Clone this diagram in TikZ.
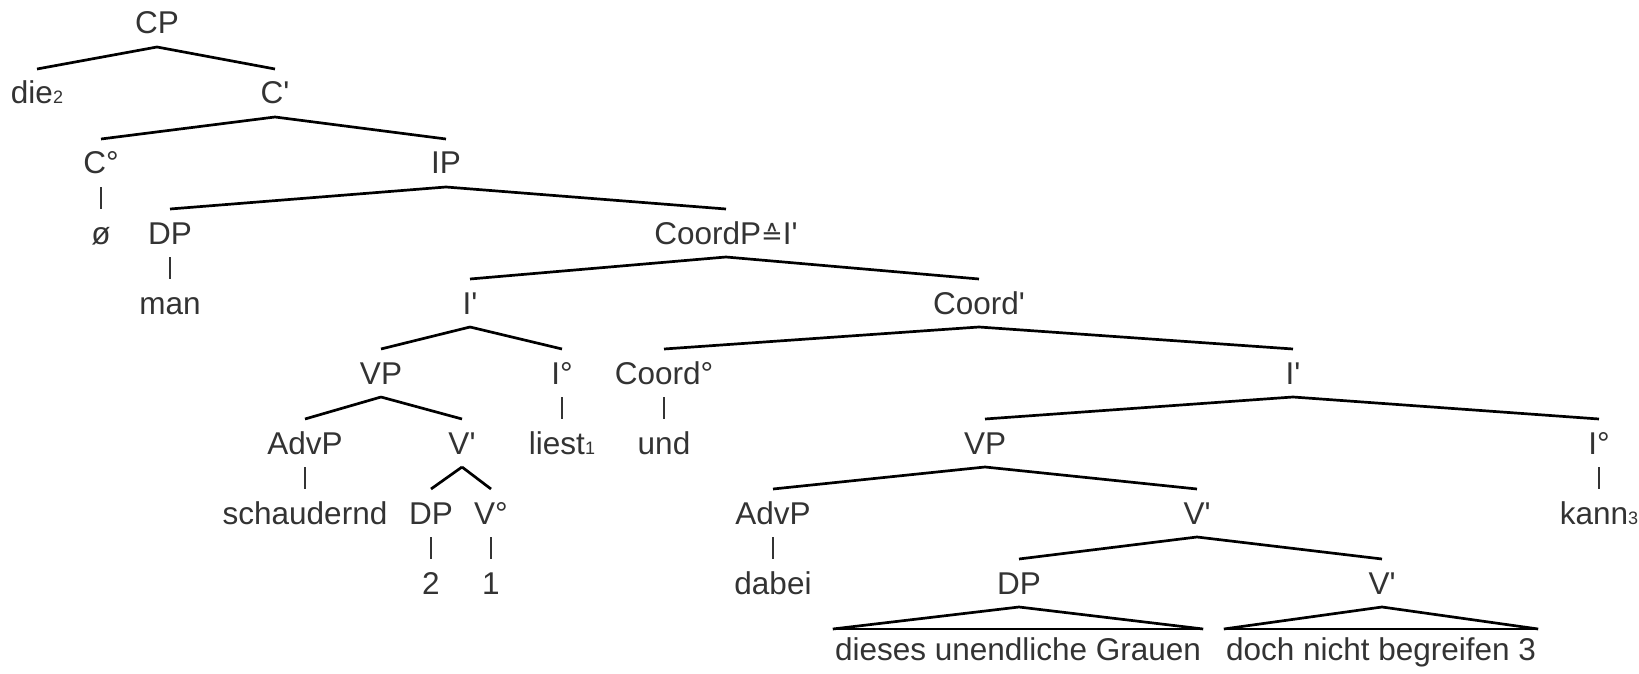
\documentclass[tikz,border=0pt]{standalone}
\usepackage{fontspec}
\setmainfont{Liberation Sans}
\newfontfamily\dejavu{DejaVu Sans}
\usetikzlibrary{calc}
\definecolor{txt}{HTML}{333333}
\newcommand\tsub[1]{{\fontsize{18}{18}\selectfont #1}}
\newcommand\pr{\textquotesingle}
\newcommand\conn[2]{\draw[br] ($(#1.base)+(0,13)$) -- ($(#2.base)+(0,-35)$);}
\newcommand\vbar[2]{\draw[vb] ($(#1.base)+(0,13)$) -- ($(#2.base)+(0,-35)$);}
\newcommand\tri[2]{%
  \draw[br] ($(#2.base west)+(-2,-31)$) -- ($(#1.base)+(0,13)$) -- ($(#2.base east)+(2,-31)$);
  \draw[basel] ($(#2.base west)+(-2,-31)$) -- ($(#2.base east)+(2,-31)$);}
\begin{document}
\begin{tikzpicture}[x=1pt,y=-1pt,
  lab/.style={anchor=base, inner sep=0pt, text=txt, font=\fontsize{31.5}{36}\selectfont},
  br/.style={line width=2.7pt, black},
  vb/.style={line width=1.8pt, txt},
  basel/.style={line width=1.4pt, black}]
\useasboundingbox[fill=white] (0,0) rectangle (1639,674);
\node[lab] (CP) at (157,34) {CP};
\node[lab] (die) at (37,104) {die\tsub{2}};
\node[lab] (Cb) at (275,104) {C\pr};
\node[lab] (C0) at (101,174) {C°};
\node[lab] (IP) at (446,174) {IP};
\node[lab] (oe) at (101,244) {ø};
\node[lab] (DP1) at (170,244) {DP};
\node[lab] (CoP) at (726,244) {CoordP{\dejavu\fontsize{26}{30}\selectfont ≙}I\pr};
\node[lab] (man) at (170,314) {man};
\node[lab] (Ib1) at (470,314) {I\pr};
\node[lab] (Cob) at (979,314) {Coord\pr};
\node[lab] (VP1) at (381,384) {VP};
\node[lab] (I01) at (562,384) {I°};
\node[lab] (Co0) at (664,384) {Coord°};
\node[lab] (Ib2) at (1293,384) {I\pr};
\node[lab] (AdvP1) at (305,454) {AdvP};
\node[lab] (Vb1) at (462,454) {V\pr};
\node[lab] (liest) at (562,454) {liest\tsub{1}};
\node[lab] (und) at (664,454) {und};
\node[lab] (VP2) at (985,454) {VP};
\node[lab] (I02) at (1599,454) {I°};
\node[lab] (schau) at (305,524) {schaudernd};
\node[lab] (DP2) at (431,524) {DP};
\node[lab] (V0) at (491,524) {V°};
\node[lab] (AdvP2) at (773,524) {AdvP};
\node[lab] (Vb2) at (1197,524) {V\pr};
\node[lab] (kann) at (1599,524) {kann\tsub{3}};
\node[lab] (two) at (431,594) {2};
\node[lab] (one) at (491,594) {1};
\node[lab] (dabei) at (773,594) {dabei};
\node[lab] (DP3) at (1019,594) {DP};
\node[lab] (Vb3) at (1382,594) {V\pr};
\node[lab] (t1) at (1018,660) {dieses unendliche Grauen};
\node[lab] (t2) at (1381,660) {doch nicht begreifen 3};
\conn{CP}{die}\conn{CP}{Cb}
\conn{Cb}{C0}\conn{Cb}{IP}
\vbar{C0}{oe}
\conn{IP}{DP1}\conn{IP}{CoP}
\vbar{DP1}{man}
\conn{CoP}{Ib1}\conn{CoP}{Cob}
\conn{Ib1}{VP1}\conn{Ib1}{I01}
\conn{Cob}{Co0}\conn{Cob}{Ib2}
\conn{VP1}{AdvP1}\conn{VP1}{Vb1}
\vbar{I01}{liest}
\vbar{Co0}{und}
\conn{Ib2}{VP2}\conn{Ib2}{I02}
\vbar{AdvP1}{schau}
\conn{Vb1}{DP2}\conn{Vb1}{V0}
\conn{VP2}{AdvP2}\conn{VP2}{Vb2}
\vbar{I02}{kann}
\vbar{DP2}{two}\vbar{V0}{one}
\vbar{AdvP2}{dabei}
\conn{Vb2}{DP3}\conn{Vb2}{Vb3}
\tri{DP3}{t1}
\tri{Vb3}{t2}
\end{tikzpicture}
\end{document}
